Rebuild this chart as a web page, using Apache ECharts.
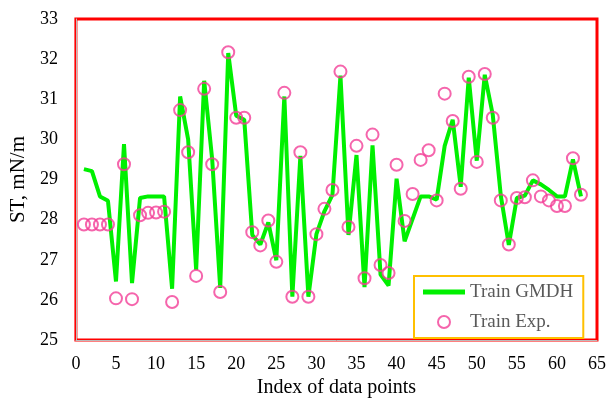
<!DOCTYPE html>
<html>
<head>
<meta charset="utf-8">
<script src="https://cdn.jsdelivr.net/npm/echarts@6/dist/echarts.min.js"></script>
<style>
  html, body { margin: 0; padding: 0; background: #fff; }
  #chart { width: 609px; height: 403px; }
</style>
</head>
<body>
<div id="chart"></div>
<script>
// index of data points
const idx = Array.from({ length: 63 }, (_, i) => i + 1)

// GMDH model output (line)
const gmdh = [
  29.26, 29.21, 28.58, 28.47, 26.46, 29.88, 26.42, 28.54, 28.58, 28.58,
  28.58, 26.28, 31.07, 30.0, 26.75, 31.46, 29.5, 26.3, 32.15, 30.59,
  30.49, 27.62, 27.38, 27.93, 26.99, 31.07, 26.08, 29.59, 26.08, 27.64,
  28.21, 28.62, 31.59, 27.62, 29.61, 26.32, 29.85, 26.63, 26.36, 29.02,
  27.46, 28.02, 28.58, 28.58, 28.5, 29.84, 30.49, 28.82, 31.54, 29.47,
  31.61, 30.61, 28.6, 27.37, 28.54, 28.6, 28.98, 28.88, 28.74, 28.58,
  28.58, 29.5, 28.58
]

// experimental values (circles)
const exp = [
  27.88, 27.88, 27.88, 27.88, 26.04, 29.38, 26.02, 28.11, 28.17, 28.18,
  28.2, 25.95, 30.73, 29.68, 26.6, 31.26, 29.38, 26.2, 32.17, 30.54,
  30.54, 27.69, 27.36, 27.98, 26.95, 31.16, 26.08, 29.68, 26.08, 27.64,
  28.27, 28.74, 31.69, 27.82, 29.84, 26.54, 30.12, 26.87, 26.67, 29.37,
  27.97, 28.64, 29.49, 29.73, 28.48, 31.14, 30.46, 28.77, 31.56, 29.44,
  31.63, 30.54, 28.48, 27.38, 28.54, 28.56, 28.98, 28.58, 28.48, 28.34,
  28.34, 29.53, 28.62
]

const font = 'Liberation Serif'
const green = '#00f000'
const pink = '#f23f97'
const chart = echarts.init(document.getElementById('chart'))

chart.setOption({
  animation: false,
  grid: {
    left: 74, right: 12, top: 19, bottom: 58,
    show: true,
    borderColor: '#ff0000',
    borderWidth: 3
  },
  legend: {
    orient: 'vertical',
    left: 414,
    top: 276,
    padding: [5, 10, 5, 9],
    itemWidth: 42,
    itemHeight: 12,
    itemGap: 8,
    borderColor: '#ffc000',
    borderWidth: 2,
    backgroundColor: '#fff',
    textStyle: { fontFamily: font, fontSize: 19, color: '#595959', lineHeight: 22 },
    data: [
      { name: 'Train GMDH', icon: 'path://M0,0H42V5H0Z', itemStyle: { color: green, borderWidth: 0 } },
      { name: 'Train Exp.', icon: 'circle' }
    ]
  },
  xAxis: {
    type: 'value',
    min: 0, max: 65, interval: 5,
    name: 'Index of data points',
    nameLocation: 'middle',
    nameGap: 35,
    nameTextStyle: { fontFamily: font, fontSize: 20, color: '#000' },
    axisLine: { lineStyle: { color: '#bbbbbb', width: 1 } },
    axisTick: { show: false },
    splitLine: { show: false },
    axisLabel: { fontFamily: font, fontSize: 18, color: '#000', margin: 15 }
  },
  yAxis: {
    type: 'value',
    min: 25, max: 33, interval: 1,
    name: 'ST, mN/m',
    nameLocation: 'middle',
    nameGap: 43,
    nameTextStyle: { fontFamily: font, fontSize: 21, color: '#000' },
    axisLine: { show: true, lineStyle: { color: '#bbbbbb', width: 1 } },
    axisTick: { show: false },
    splitLine: { show: false },
    axisLabel: { fontFamily: font, fontSize: 18, color: '#000', margin: 18 }
  },
  series: [
    {
      name: 'Train GMDH',
      type: 'line',
      data: idx.map((x, i) => [x, gmdh[i]]),
      symbol: 'none',
      lineStyle: { color: green, width: 4 },
      itemStyle: { color: green },
      z: 2
    },
    {
      name: 'Train Exp.',
      type: 'scatter',
      data: idx.map((x, i) => [x, exp[i]]),
      symbol: 'circle',
      symbolSize: 12,
      itemStyle: { color: 'rgba(0,0,0,0)', borderColor: pink, borderWidth: 2 },
      z: 3
    }
  ]
})
</script>
</body>
</html>
